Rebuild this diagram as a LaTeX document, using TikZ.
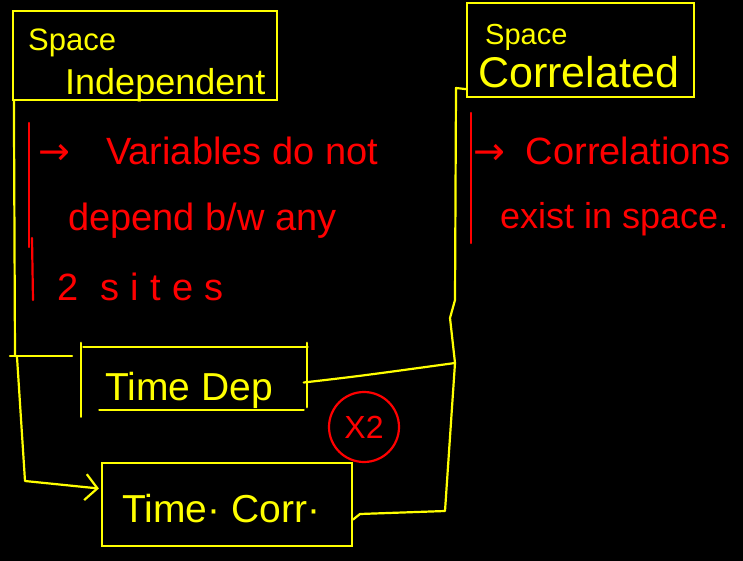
\documentclass[tikz,border=0pt]{standalone}
\usepackage{fontspec}
\setmainfont{Liberation Sans}
\newfontfamily\arrowfont{DejaVu Sans}
\usetikzlibrary{arrows.meta}
\definecolor{hlyellow}{RGB}{255,255,0}
\definecolor{hlred}{RGB}{255,0,0}
\begin{document}
\begin{tikzpicture}[x=1pt,y=-1pt,
  ink/.style={draw=hlyellow, line width=2.2pt, line cap=round, line join=round},
  redink/.style={draw=hlred, line width=2.2pt, line cap=round},
  boxst/.style={draw=hlyellow, line width=2.2pt, rectangle, inner sep=0pt},
  frame/.style={rectangle, inner sep=0pt},
  ylab/.style={text=hlyellow, inner sep=0pt, anchor=base west},
  rlab/.style={text=hlred, inner sep=0pt, anchor=base west, font=\fontsize{38}{40}\selectfont},
  hook/.style={-{Straight Barb[length=12pt,width=26pt,line width=2.2pt]}},
]
\fill[black] (0,0) rectangle (743,561);

% boxes
\node[boxst, minimum width=264pt, minimum height=89pt] (sind) at (145,55.5) {};
\node[boxst, minimum width=227pt, minimum height=94pt] (scor) at (580.5,50) {};
\node[frame, minimum width=225pt, minimum height=63pt] (tdep) at (194,378.5) {};
\node[boxst, minimum width=250pt, minimum height=83pt] (tcorr) at (227,504.5) {};

% open-cornered frame of the time-dependent box
\draw[ink] ([yshift=4pt]tdep.north west) -- ([yshift=-70pt]tdep.north west);
\draw[ink] ([xshift=2pt]tdep.north west) -- ([xshift=1pt]tdep.north east);
\draw[ink] ([yshift=4pt]tdep.north east) -- ([yshift=3pt]tdep.south east);
\draw[ink] ([xshift=18pt]tdep.south west) -- ([xshift=-3pt]tdep.south east);

% box labels
\node[ylab, font=\fontsize{31}{33}\selectfont] (sindA) at (28,51) {Space};
\node[ylab, font=\fontsize{36}{38}\selectfont] (sindB) at (65,95) {Independent};
\node[ylab, font=\fontsize{29}{31}\selectfont] (scorA) at (485,45) {Space};
\node[ylab, font=\fontsize{43}{45}\selectfont] (scorB) at (478,88) {Correlated};
\node[ylab, font=\fontsize{39}{41}\selectfont] (tdepL) at (105,400) {Time Dep};
\node[ylab, font=\fontsize{39}{41}\selectfont] (tcorrL) at (122,522) {Time· Corr·};

% connector bends
\coordinate (lA) at (15,356);
\coordinate (lB) at (10,356);
\coordinate (lC) at (72,356);
\coordinate (lD) at (17,357);
\coordinate (lE) at (25,481);
\coordinate (rA) at (456,88);
\coordinate (rB) at (455,300);
\coordinate (rC) at (450,318);
\coordinate (rJ) at (455,363);
\coordinate (rD) at (445,511);
\coordinate (rE) at (360,514);

% left connectors
\draw[ink] ([xshift=2pt]sind.south west) -- (lA);
\draw[ink] (lB) -- (lC);
\draw[ink, hook] (lD) -- (lE) -- ([yshift=16pt,xshift=-2pt]tcorr.west);

% right connectors
\draw[ink] ([yshift=9pt]scor.south west) -- (rA) -- (rB) -- (rC) -- (rJ) -- (rD) -- (rE) -- ([yshift=-15pt]tcorr.east);
\draw[ink] ([yshift=-4pt,xshift=-3pt]tdep.east) .. controls (360,376) .. (rJ);

% red notes
\draw[redink] (29,123) -- (29,247);
\draw[redink] (32,238) -- (33,300);
\draw[redink] (471,113) -- (471,243);
\node[rlab] (n1) at (38,165) {{\arrowfont →}\hspace{0.95em}Variables do not};
\node[rlab] (n2) at (68,230) {depend b/w any};
\node[rlab] (n3) at (57,300) {\addfontfeature{LetterSpace=30}2 sites};
\node[rlab] (n4) at (473,165) {{\arrowfont →}\hspace{0.55em}Correlations};
\node[rlab, font=\fontsize{36}{38}\selectfont] (n5) at (500,228) {exist in space.};

\node[circle, draw=hlred, line width=2.2pt, minimum size=70pt, inner sep=0pt,
      text=hlred, font=\fontsize{32}{34}\selectfont] (x2) at (364,427) {X2};
\end{tikzpicture}
\end{document}
